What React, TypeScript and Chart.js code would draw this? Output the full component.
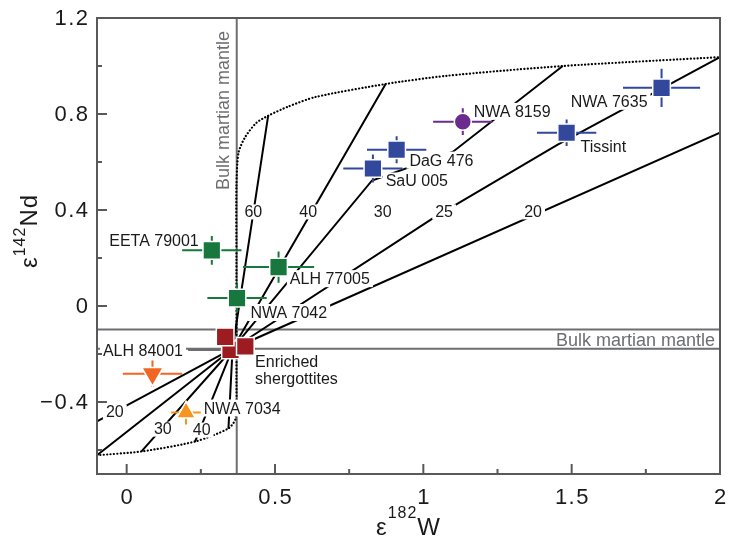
import React, { useEffect, useRef } from 'react';
import { Chart, registerables } from 'chart.js';

Chart.register(...registerables);

// ---------- axes ----------
const X_MIN = -0.1;
const X_MAX = 2;
const Y_MIN = -0.7;
const Y_MAX = 1.2;
const xMajorTicks = [0, 0.5, 1, 1.5, 2];
const xTickLabels = ['0', '0.5', '1', '1.5', '2'];
const xMinorTicks = [0.25, 0.75, 1.25, 1.75];
const yMajorTicks = [-0.4, 0, 0.4, 0.8, 1.2];
const yTickLabels = ['\u22120.4', '0', '0.4', '0.8', '1.2'];
const yMinorTicks = [-0.6, -0.2, 0.2, 0.6, 1.0];

// ---------- bulk martian mantle ----------
const bulkW = 0.371;
const bulkNdBand = [-0.178, -0.098];

// ---------- samples ----------
const greenW = [0.287, 0.512, 0.372];
const greenNd = [0.232, 0.162, 0.033];
const greenWErr = [0.1, 0.12, 0.1];
const greenNdErr = [0.06, 0.065, 0.06];

const redW = [0.35, 0.332, 0.4];
const redNd = [-0.183, -0.129, -0.168];

const blueW = [0.91, 0.83, 1.483, 1.803];
const blueNd = [0.651, 0.573, 0.722, 0.909];
const blueWErr = [0.1, 0.1, 0.1, 0.13];
const blueNdErr = [0.056, 0.058, 0.055, 0.08];

const purpleW = [1.133];
const purpleNd = [0.768];
const purpleWErr = [0.1];
const purpleNdErr = [0.056];

const orangeW = [0.087];
const orangeNd = [-0.282];
const orangeWErr = [0.1];
const orangeNdErr = [0.055];

const amberW = [0.2];
const amberNd = [-0.444];
const amberWErr = [0.05];
const amberNdErr = [0.05];

// ---------- model mixing lines (from common enriched end-member) ----------
const mixOrigin = { w: 0.357, nd: -0.178 };
const up20W = [2.0];
const up20Nd = [0.722];
const up25W = [1.037, 1.453, 2.0];
const up25Nd = [0.369, 0.672, 1.037];
const up30W = [0.827, 1.1, 1.47];
const up30Nd = [0.523, 0.643, 1.0];
const up40W = [0.873];
const up40Nd = [0.925];
const up60W = [0.477];
const up60Nd = [0.793];
const lo20W = [-0.1];
const lo20Nd = [-0.481];
const lo25W = [-0.1];
const lo25Nd = [-0.622];
const lo30W = [0.05];
const lo30Nd = [-0.606];
const lo40W = [0.23];
const lo40Nd = [-0.566];
const lo60W = [0.343];
const lo60Nd = [-0.512];

// dotted envelope curve
const curveW = [-0.1, 0.05, 0.233, 0.343, 0.367, 0.37, 0.37, 0.37, 0.377, 0.4, 0.437, 0.477, 0.543, 0.637, 0.873, 1.077, 1.47, 2.0];
const curveNd = [-0.622, -0.606, -0.564, -0.51, -0.469, -0.3, 0.2, 0.498, 0.639, 0.705, 0.763, 0.793, 0.83, 0.871, 0.925, 0.959, 1.0, 1.037];

// ALH 84001 leader line
const leaderW = [0.207, 0.317];
const leaderNd = [-0.183, -0.183];

// ---------- text annotations (data coords) ----------
const sampleLabels = [
  { text: 'EETA 79001', w: 0.243, nd: 0.249, align: 'right' },
  { text: 'ALH 77005', w: 0.55, nd: 0.091, align: 'left' },
  { text: 'NWA 7042', w: 0.417, nd: -0.05, align: 'left' },
  { text: 'Enriched', w: 0.433, nd: -0.253, align: 'left' },
  { text: 'shergottites', w: 0.433, nd: -0.324, align: 'left' },
  { text: 'ALH 84001', w: -0.08, nd: -0.207, align: 'left' },
  { text: 'NWA 7034', w: 0.26, nd: -0.448, align: 'left' },
  { text: 'DaG 476', w: 0.953, nd: 0.585, align: 'left' },
  { text: 'SaU 005', w: 0.873, nd: 0.498, align: 'left' },
  { text: 'NWA 8159', w: 1.17, nd: 0.788, align: 'left' },
  { text: 'NWA 7635', w: 1.497, nd: 0.83, align: 'left' },
  { text: 'Tissint', w: 1.53, nd: 0.643, align: 'left' },
];
const lineLabels = [
  { text: '60', w: 0.427, nd: 0.39 },
  { text: '40', w: 0.612, nd: 0.39 },
  { text: '30', w: 0.863, nd: 0.39 },
  { text: '25', w: 1.07, nd: 0.39 },
  { text: '20', w: 1.37, nd: 0.39 },
  { text: '20', w: -0.04, nd: -0.444 },
  { text: '30', w: 0.122, nd: -0.515 },
  { text: '40', w: 0.253, nd: -0.519 },
];

const GREEN = '#17773d';
const RED = '#9d1c22';
const BLUE = '#31489c';
const PURPLE = '#6a2a8e';
const ORANGE = '#f26522';
const AMBER = '#f7941d';
const GREY = '#6d6e71';
const FRAME = '#58595b';
const TEXT = '#1a1a1a';
const FONT = '"Liberation Sans", Arial, Helvetica, sans-serif';

type P = { x: number; y: number | null };

function pathFrom(ws: number[], nds: number[]): P[] {
  return ws.map((w, i) => ({ x: w, y: nds[i] }));
}

function mixingPoints(): P[] {
  const lines: [number[], number[]][] = [
    [up20W, up20Nd], [up25W, up25Nd], [up30W, up30Nd], [up40W, up40Nd], [up60W, up60Nd],
    [lo20W, lo20Nd], [lo25W, lo25Nd], [lo30W, lo30Nd], [lo40W, lo40Nd], [lo60W, lo60Nd],
  ];
  const pts: P[] = [];
  lines.forEach(([ws, nds]) => {
    pts.push({ x: mixOrigin.w, y: mixOrigin.nd });
    pts.push(...pathFrom(ws, nds));
    pts.push({ x: mixOrigin.w, y: null });
  });
  return pts;
}

function errorBars(ws: number[], nds: number[], we: number[], ne: number[]): P[] {
  const pts: P[] = [];
  ws.forEach((w, i) => {
    pts.push({ x: w - we[i], y: nds[i] }, { x: w + we[i], y: nds[i] }, { x: w, y: null });
    pts.push({ x: w, y: nds[i] - ne[i] }, { x: w, y: nds[i] + ne[i] }, { x: w, y: null });
  });
  return pts;
}

function refLines(): P[] {
  return [
    { x: bulkW, y: Y_MIN }, { x: bulkW, y: Y_MAX }, { x: bulkW, y: null },
    { x: X_MIN, y: bulkNdBand[0] }, { x: X_MAX, y: bulkNdBand[0] }, { x: X_MAX, y: null },
    { x: X_MIN, y: bulkNdBand[1] }, { x: X_MAX, y: bulkNdBand[1] },
  ];
}

function lineDs(label: string, data: P[], color: string, width: number, order: number, extra: any = {}) {
  return {
    label, data, showLine: true, borderColor: color, borderWidth: width, pointRadius: 0,
    spanGaps: false, tension: 0, order, ...extra,
  };
}

function markerDs(label: string, ws: number[], nds: number[], color: string, style: string, radius: number, rotation = 0) {
  return {
    label, data: pathFrom(ws, nds), showLine: false, pointStyle: style, pointRadius: radius,
    pointRotation: rotation, pointBackgroundColor: color, pointBorderColor: '#ffffff',
    pointBorderWidth: 1.5, order: 0,
  };
}

function setSpacing(ctx: CanvasRenderingContext2D, px: number) {
  const c = ctx as any;
  if ('letterSpacing' in c) c.letterSpacing = `${px}px`;
}

function drawBoxedText(ctx: CanvasRenderingContext2D, text: string, px: number, py: number, align: CanvasTextAlign, baseline: 'alphabetic' | 'middle') {
  ctx.font = `16px ${FONT}`;
  const w = ctx.measureText(text).width;
  const left = align === 'left' ? px : align === 'right' ? px - w : px - w / 2;
  const top = baseline === 'alphabetic' ? py - 13 : py - 7;
  const h = baseline === 'alphabetic' ? 16 : 14;
  ctx.fillStyle = '#ffffff';
  ctx.fillRect(left - 3, top - 1, w + 6, h + 1);
  ctx.fillStyle = TEXT;
  ctx.textAlign = align;
  ctx.textBaseline = baseline;
  ctx.fillText(text, px, py);
}

const customPlugin = {
  id: 'marsDecor',
  afterDatasetDraw(chart: any, args: any) {
    const ds = chart.data.datasets[args.index];
    if (ds.label !== 'mixing') return;
    const ctx: CanvasRenderingContext2D = chart.ctx;
    const xs = chart.scales.x;
    const ys = chart.scales.y;
    ctx.save();
    sampleLabels.forEach((l) => {
      drawBoxedText(ctx, l.text, xs.getPixelForValue(l.w), ys.getPixelForValue(l.nd), l.align as CanvasTextAlign, 'alphabetic');
    });
    lineLabels.forEach((l) => {
      drawBoxedText(ctx, l.text, xs.getPixelForValue(l.w), ys.getPixelForValue(l.nd), 'center', 'middle');
    });
    ctx.restore();
  },
  afterDraw(chart: any) {
    const ctx: CanvasRenderingContext2D = chart.ctx;
    const xs = chart.scales.x;
    const ys = chart.scales.y;
    const { left, right, top, bottom } = chart.chartArea;
    ctx.save();

    // bulk martian mantle texts
    ctx.fillStyle = GREY;
    ctx.font = `18px ${FONT}`;
    ctx.textAlign = 'right';
    ctx.textBaseline = 'alphabetic';
    ctx.fillText('Bulk martian mantle', right - 5, ys.getPixelForValue(bulkNdBand[0]) - 3);
    ctx.save();
    ctx.translate(xs.getPixelForValue(bulkW) - 8, top + 172);
    ctx.rotate(-Math.PI / 2);
    ctx.textAlign = 'left';
    ctx.fillText('Bulk martian mantle', 0, 0);
    ctx.restore();

    // frame
    ctx.strokeStyle = FRAME;
    ctx.lineWidth = 2;
    ctx.strokeRect(left, top, right - left, bottom - top);

    // ticks (inward)
    ctx.beginPath();
    xMajorTicks.forEach((v) => { const p = xs.getPixelForValue(v); ctx.moveTo(p, bottom); ctx.lineTo(p, bottom - 10); });
    xMinorTicks.forEach((v) => { const p = xs.getPixelForValue(v); ctx.moveTo(p, bottom); ctx.lineTo(p, bottom - 5); });
    yMajorTicks.forEach((v) => { const p = ys.getPixelForValue(v); ctx.moveTo(left, p); ctx.lineTo(left + 10, p); });
    yMinorTicks.forEach((v) => { const p = ys.getPixelForValue(v); ctx.moveTo(left, p); ctx.lineTo(left + 5, p); });
    ctx.stroke();

    // tick labels
    ctx.fillStyle = TEXT;
    ctx.font = `22px ${FONT}`;
    setSpacing(ctx, 1.5);
    ctx.textBaseline = 'middle';
    ctx.textAlign = 'center';
    xMajorTicks.forEach((v, i) => ctx.fillText(xTickLabels[i], xs.getPixelForValue(v) + 0.75, bottom + 24));
    ctx.textAlign = 'right';
    yMajorTicks.forEach((v, i) => ctx.fillText(yTickLabels[i], left - 7.5, ys.getPixelForValue(v) + 1));

    // x title: ε182W
    setSpacing(ctx, 1);
    ctx.textBaseline = 'alphabetic';
    ctx.textAlign = 'left';
    const mainF = `24px ${FONT}`;
    const supF = `16px ${FONT}`;
    ctx.font = mainF; const wE = ctx.measureText('\u03b5').width; const wW = ctx.measureText('W').width;
    ctx.font = supF; const wS = ctx.measureText('182').width;
    let x0 = (left + right) / 2 - (wE + wS + wW) / 2;
    const base = 535;
    ctx.font = mainF; ctx.fillText('\u03b5', x0, base); x0 += wE;
    ctx.font = supF; ctx.fillText('182', x0, base - 17); x0 += wS;
    ctx.font = mainF; ctx.fillText('W', x0, base);

    // y title: ε142Nd (rotated)
    ctx.save();
    ctx.translate(37, 268);
    ctx.rotate(-Math.PI / 2);
    const yMain = `24px ${FONT}`;
    let y0 = 0;
    ctx.font = yMain; ctx.fillText('\u03b5', y0, 0); y0 += ctx.measureText('\u03b5').width;
    ctx.font = supF; ctx.fillText('142', y0, -12); y0 += ctx.measureText('142').width;
    ctx.font = yMain; ctx.fillText('Nd', y0, 0);
    ctx.restore();

    ctx.restore();
  },
};

export default function App() {
  const ref = useRef<HTMLCanvasElement>(null);
  useEffect(() => {
    const canvas = ref.current;
    if (!canvas) return;
    const chart = new Chart(canvas, {
      type: 'scatter',
      data: {
        datasets: [
          // markers (on top)
          markerDs('red', redW, redNd, RED, 'rect', 12.5),
          markerDs('green', greenW, greenNd, GREEN, 'rect', 12.5),
          markerDs('blue', blueW, blueNd, BLUE, 'rect', 12.5),
          markerDs('purple', purpleW, purpleNd, PURPLE, 'circle', 8.5),
          markerDs('orange', orangeW, orangeNd, ORANGE, 'triangle', 12.5, 180),
          markerDs('amber', amberW, amberNd, AMBER, 'triangle', 11),
          // error bars
          lineDs('errGreen', errorBars(greenW, greenNd, greenWErr, greenNdErr), GREEN, 2, 1),
          lineDs('errBlue', errorBars(blueW, blueNd, blueWErr, blueNdErr), BLUE, 2, 1),
          lineDs('errPurple', errorBars(purpleW, purpleNd, purpleWErr, purpleNdErr), PURPLE, 2, 1),
          lineDs('errOrange', errorBars(orangeW, orangeNd, orangeWErr, orangeNdErr), ORANGE, 2, 1),
          lineDs('errAmber', errorBars(amberW, amberNd, amberWErr, amberNdErr), AMBER, 2, 1),
          // mixing lines
          lineDs('mixing', mixingPoints(), '#000000', 2, 2),
          // envelope and reference lines
          lineDs('curve', pathFrom(curveW, curveNd), '#000000', 2.2, 3, { tension: 0.25, borderDash: [0.1, 3.3], borderCapStyle: 'round' }),
          lineDs('bulk', refLines(), GREY, 2, 4),
          lineDs('leader', pathFrom(leaderW, leaderNd), GREY, 2, 4),
        ] as any,
      },
      options: {
        animation: false,
        responsive: false,
        devicePixelRatio: 1,
        events: [],
        layout: { padding: { top: 18, right: 7, left: 0, bottom: 0 } },
        plugins: { legend: { display: false }, tooltip: { enabled: false }, title: { display: false } },
        scales: {
          x: {
            type: 'linear', min: X_MIN, max: X_MAX,
            ticks: { display: false }, grid: { display: false }, border: { display: false },
            afterFit: (s: any) => { s.height = 64; },
          },
          y: {
            type: 'linear', min: Y_MIN, max: Y_MAX,
            ticks: { display: false }, grid: { display: false }, border: { display: false },
            afterFit: (s: any) => { s.width = 97; },
          },
        },
      } as any,
      plugins: [customPlugin],
    });
    return () => chart.destroy();
  }, []);
  return (
    <div style={{ position: 'fixed', left: 0, top: 0, width: 734, height: 538, background: '#ffffff' }}>
      <canvas ref={ref} width={734} height={538} style={{ display: 'block', width: 734, height: 538 }} />
    </div>
  );
}
